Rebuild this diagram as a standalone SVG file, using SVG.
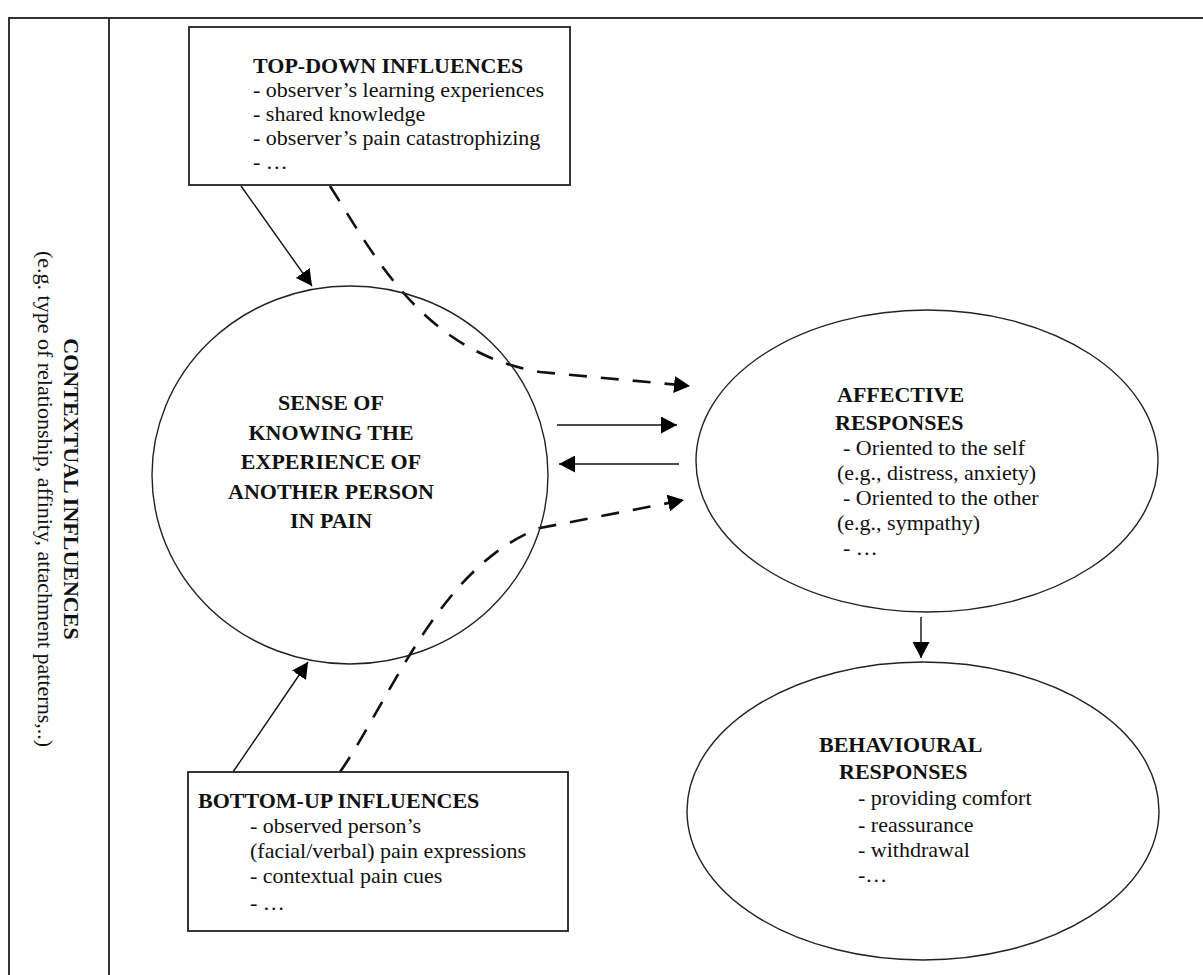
<svg xmlns="http://www.w3.org/2000/svg" width="1203" height="975" viewBox="0 0 1203 975">
<style>
text{font-family:"Liberation Serif","Times New Roman",serif;font-size:22px;fill:#111}
.b{font-weight:bold}
.frame{fill:none;stroke:#333;stroke-width:2}
.box{fill:#fff;stroke:#222;stroke-width:1.8}
.ell{fill:none;stroke:#222;stroke-width:1.4}
.solid{fill:none;stroke:#111;stroke-width:1.4;marker-end:url(#ah)}
.dash{fill:none;stroke:#111;stroke-width:2.6;stroke-dasharray:18 14;marker-end:url(#ah)}
.c{text-anchor:middle}
</style>
<defs>
<marker id="ah" markerUnits="userSpaceOnUse" viewBox="0 0 16 17" markerWidth="16" markerHeight="17" refX="16" refY="8.5" orient="auto"><path d="M0,0 L16,8.5 L0,17 z" fill="#000"/></marker>
</defs>
<g id="frame">
<path class="frame" d="M1203,18 H9 V975 M109,18 V975"/>
</g>
<g id="contextual">
<text class="b c" transform="translate(64,489) rotate(90)">CONTEXTUAL INFLUENCES</text>
<text class="c" transform="translate(38,499) rotate(90)">(e.g. type of relationship, affinity, attachment patterns,..)</text>
</g>
<g id="connectors">
<path class="solid" d="M241,186 L312,286"/>
<path class="solid" d="M233,772 L308,662"/>
<path class="solid" d="M557,425 L677,425"/>
<path class="solid" d="M679,464 L559,464"/>
<path class="dash" d="M330,186 C378,262 425,352 540,372 L690,386"/>
<path class="dash" d="M340,772 C390,700 440,565 540,528 L684,500"/>
<path class="solid" d="M921,617 L921,658"/>
</g>
<g id="top-down">
<rect class="box" x="189" y="27" width="381" height="158"/>
<text class="b" x="253" y="73">TOP-DOWN INFLUENCES</text>
<text x="253" y="97">- observer’s learning experiences</text>
<text x="253" y="121">- shared knowledge</text>
<text x="253" y="145">- observer’s pain catastrophizing</text>
<text x="253" y="169">- …</text>
</g>
<g id="bottom-up">
<rect class="box" x="188" y="772" width="380" height="159"/>
<text class="b" x="198" y="808">BOTTOM-UP INFLUENCES</text>
<text x="250" y="833">- observed person’s</text>
<text x="250" y="858">(facial/verbal) pain expressions</text>
<text x="250" y="883">- contextual pain cues</text>
<text x="250" y="910">- …</text>
</g>
<g id="sense">
<ellipse class="ell" cx="350" cy="475" rx="198" ry="189"/>
<text class="b c" x="331" y="410">SENSE OF</text>
<text class="b c" x="331" y="440">KNOWING THE</text>
<text class="b c" x="331" y="469">EXPERIENCE OF</text>
<text class="b c" x="331" y="499">ANOTHER PERSON</text>
<text class="b c" x="331" y="528">IN PAIN</text>
</g>
<g id="affective">
<ellipse class="ell" cx="927" cy="461" rx="231" ry="151"/>
<text class="b" x="837" y="402">AFFECTIVE</text>
<text class="b" x="835" y="430">RESPONSES</text>
<text x="843" y="455">- Oriented to the self</text>
<text x="837" y="480">(e.g., distress, anxiety)</text>
<text x="843" y="505">- Oriented to the other</text>
<text x="837" y="530">(e.g., sympathy)</text>
<text x="843" y="555">- …</text>
</g>
<g id="behavioural">
<ellipse class="ell" cx="923" cy="811" rx="236" ry="149"/>
<text class="b" x="819" y="752">BEHAVIOURAL</text>
<text class="b" x="839" y="779">RESPONSES</text>
<text x="858" y="805">- providing comfort</text>
<text x="858" y="832">- reassurance</text>
<text x="858" y="857">- withdrawal</text>
<text x="858" y="882">-…</text>
</g>
</svg>
